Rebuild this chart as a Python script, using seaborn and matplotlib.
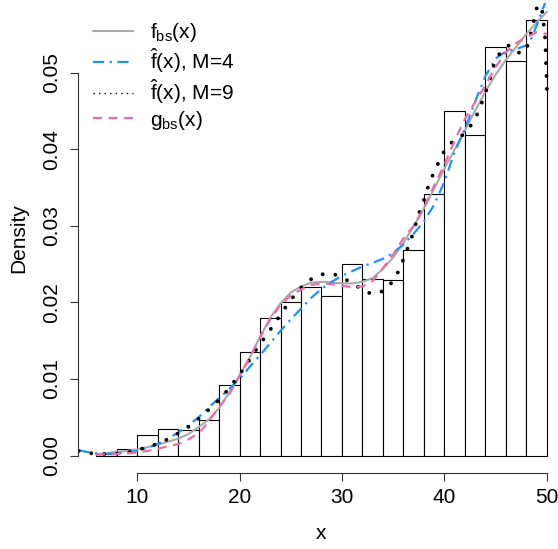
import seaborn as sns
import matplotlib.pyplot as plt
from matplotlib.lines import Line2D

# histogram (density per bin of width 2)
bin_edges = [6, 8, 10, 12, 14, 16, 18, 20, 22, 24, 26, 28, 30, 32, 34, 36, 38, 40, 42, 44, 46, 48, 50]
bin_density = [0.0002, 0.0008, 0.0027, 0.0035, 0.0034, 0.0046, 0.0092, 0.0135, 0.0180, 0.0200, 0.0220,
               0.0208, 0.0250, 0.0231, 0.0230, 0.0269, 0.0342, 0.0450, 0.0419, 0.0534, 0.0516, 0.0569]

# f_bs(x)
x_fbs = list(range(6, 51))
y_fbs = [0.0002, 0.0003, 0.0005, 0.0006, 0.0008, 0.0011, 0.0014, 0.0018, 0.0022, 0.0028,
         0.0037, 0.0047, 0.0062, 0.0082, 0.0105, 0.0128, 0.0155, 0.0180, 0.0199, 0.0213,
         0.0221, 0.0226, 0.0227, 0.0226, 0.0225, 0.0225, 0.0227, 0.0232, 0.0244, 0.0259,
         0.0278, 0.0300, 0.0323, 0.0349, 0.0375, 0.0400, 0.0425, 0.0451, 0.0476, 0.0498,
         0.0517, 0.0534, 0.0551, 0.0566, 0.0580]

# g_bs(x)
x_gbs = list(range(6, 51))
y_gbs = [0.0001, 0.0002, 0.0002, 0.0003, 0.0004, 0.0006, 0.0009, 0.0012, 0.0015, 0.0021,
         0.0029, 0.0044, 0.0064, 0.0080, 0.0104, 0.0128, 0.0154, 0.0178, 0.0197, 0.0209,
         0.0217, 0.0223, 0.0225, 0.0224, 0.0222, 0.0220, 0.0221, 0.0228, 0.0245, 0.0263,
         0.0284, 0.0300, 0.0324, 0.0353, 0.0380, 0.0412, 0.0440, 0.0462, 0.0484, 0.0508,
         0.0527, 0.0539, 0.0547, 0.0553, 0.0551]

# f_hat, M=4
x_m4 = [4.3, 5, 6, 7, 8, 9, 10, 11, 12, 13, 14, 15, 16, 17, 18, 19, 20, 21, 22, 23, 24, 25, 26, 27,
        28, 29, 30, 31, 32, 33, 34, 35, 36, 37, 38, 39, 40, 41, 42, 43, 44, 45, 46, 47, 48, 48.5,
        49, 49.5, 50]
y_m4 = [0.0007, 0.0005, 0.0003, 0.0002, 0.0003, 0.0004, 0.0006, 0.0010, 0.0015, 0.0022,
        0.0030, 0.0039, 0.0050, 0.0063, 0.0075, 0.0087, 0.0100, 0.0116, 0.0131, 0.0147,
        0.0163, 0.0178, 0.0192, 0.0206, 0.0218, 0.0227, 0.0235, 0.0241, 0.0247, 0.0252,
        0.0257, 0.0265, 0.0276, 0.0290, 0.0306, 0.0328, 0.0358, 0.0397, 0.0427, 0.0463,
        0.0496, 0.0519, 0.0528, 0.0531, 0.0536, 0.0546, 0.0562, 0.0580, 0.0598]

# f_hat, M=9
x_m9 = [4.3, 5.5, 6.5, 7.5, 8.5, 9.5, 10.5, 11.5, 12.5, 13.5, 14.5, 15.5, 16.5, 17.5, 18.5, 19.5,
        20.5, 21.5, 22.5, 23.5, 24.5, 25.5, 26.5, 27.5, 28.5, 29.5, 30.5, 31.5, 32.5, 33.2, 34.2,
        35.1, 35.7, 36.2, 36.7, 37.1, 37.5, 38.0, 38.4, 38.9, 39.5, 40.1, 40.6, 41.2, 41.7, 42.2,
        42.6, 43.0, 43.5, 44.0, 44.4, 44.8, 45.4, 45.9, 46.3, 46.8, 47.4, 47.8, 48.2, 48.5, 48.8,
        49.1, 49.35, 49.64, 49.8, 49.87, 49.91, 49.96, 50.0]
y_m9 = [0.0006, 0.0003, 0.0002, 0.0002, 0.0003, 0.0005, 0.0009, 0.0013, 0.0018, 0.0025,
        0.0033, 0.0042, 0.0054, 0.0066, 0.0080, 0.0097, 0.0115, 0.0136, 0.0155, 0.0174,
        0.0194, 0.0212, 0.0226, 0.0235, 0.0238, 0.0236, 0.0229, 0.0221, 0.0213, 0.0211,
        0.0216, 0.0230, 0.0246, 0.0264, 0.0281, 0.0298, 0.0316, 0.0334, 0.0351, 0.0368,
        0.0385, 0.0401, 0.0408, 0.0413, 0.0418, 0.0425, 0.0432, 0.0440, 0.0456, 0.0474,
        0.0491, 0.0509, 0.0526, 0.0533, 0.0536, 0.0532, 0.0525, 0.0528, 0.0538, 0.0555,
        0.0573, 0.0590, 0.0600, 0.0569, 0.0549, 0.0530, 0.0512, 0.0494, 0.0475]

legend_labels = [r'$f_{bs}(x)$', r'$\hat{f}(x)$, M=4', r'$\hat{f}(x)$, M=9', r'$g_{bs}(x)$']

sns.set_theme(style='ticks')
plt.rcParams['font.family'] = ['Liberation Sans', 'DejaVu Sans']
plt.rcParams['mathtext.fontset'] = 'custom'
plt.rcParams['mathtext.rm'] = 'Liberation Sans'
plt.rcParams['mathtext.it'] = 'Liberation Sans'
plt.rcParams['mathtext.default'] = 'regular'
plt.rcParams['text.color'] = 'black'
plt.rcParams['axes.labelcolor'] = 'black'
plt.rcParams['xtick.color'] = 'black'
plt.rcParams['ytick.color'] = 'black'

fig = plt.figure(figsize=(5.58, 5.49), dpi=100)
ax = fig.add_axes([78 / 558, 76 / 549, 487 / 558, 470.5 / 549])

mids = [(a + b) / 2 for a, b in zip(bin_edges[:-1], bin_edges[1:])]
sns.histplot(x=mids, weights=bin_density, bins=bin_edges, stat='count', color='white',
             edgecolor='black', linewidth=0.8, alpha=1, ax=ax)

gray_c = '#a9a9a9'
blue_c = '#1e90ff'
pink_c = '#ee6aa7'
sns.lineplot(x=x_fbs, y=y_fbs, sort=False, estimator=None, color=gray_c, linewidth=1.5, ax=ax)
sns.lineplot(x=x_m4, y=y_m4, sort=False, estimator=None, color=blue_c, linewidth=1.6,
             linestyle=(0, (5, 2.5, 1, 2.5)), ax=ax)
sns.lineplot(x=x_m9, y=y_m9, sort=False, estimator=None, color='black', linewidth=2.8,
             linestyle=(0, (0.01, 3.3)), dash_capstyle='round', ax=ax)
sns.lineplot(x=x_gbs, y=y_gbs, sort=False, estimator=None, color=pink_c, linewidth=1.6,
             linestyle=(0, (4, 3)), ax=ax)

ax.set_xlim(4.24, 51.76)
ax.set_ylim(-0.00228, 0.0592)
ax.set_xticks([10, 20, 30, 40, 50])
ax.set_yticks([0, 0.01, 0.02, 0.03, 0.04, 0.05])
ax.set_yticklabels(['0.00', '0.01', '0.02', '0.03', '0.04', '0.05'])
ax.tick_params(direction='out', length=6, width=0.8, labelsize=15, color='#333333')
ax.tick_params(axis='x', pad=5)
ax.tick_params(axis='y', labelrotation=90, pad=6)
for lab in ax.get_yticklabels():
    lab.set_va('center')
ax.spines['top'].set_visible(False)
ax.spines['right'].set_visible(False)
ax.spines['left'].set_bounds(0, 0.05)
ax.spines['bottom'].set_bounds(10, 50)
ax.spines['left'].set_linewidth(0.8)
ax.spines['bottom'].set_linewidth(0.8)
ax.spines['left'].set_color('#333333')
ax.spines['bottom'].set_color('#333333')
ax.set_xlabel('x', fontsize=15, labelpad=12)
ax.set_ylabel('Density', fontsize=15, labelpad=10)

handles = [Line2D([], [], color=gray_c, linewidth=1.5),
           Line2D([], [], color=blue_c, linewidth=1.6, linestyle=(0, (5, 2.5, 1, 2.5))),
           Line2D([], [], color='black', linewidth=1.0, linestyle=(0, (1, 3))),
           Line2D([], [], color=pink_c, linewidth=1.6, linestyle=(0, (4, 3)))]
ax.legend(handles, legend_labels, loc='upper left', bbox_to_anchor=(93 / 558, 1 - 21 / 549),
          bbox_transform=fig.transFigure, frameon=False, fontsize=15, handlelength=1.9,
          handletextpad=0.85, labelspacing=0.12, borderpad=0, borderaxespad=0)

fig.savefig('out.png', dpi=100)
